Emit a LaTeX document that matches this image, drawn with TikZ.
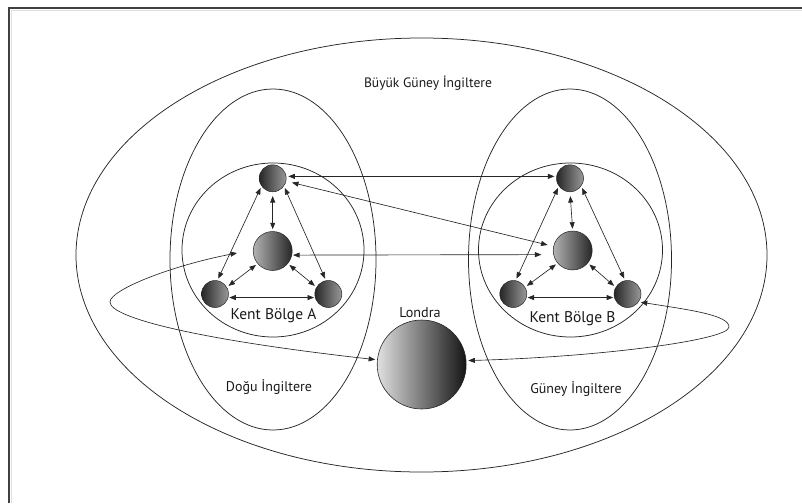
\documentclass[tikz,border=0pt]{standalone}
\usepackage{fontspec}
\setmainfont{PT Sans}
\usetikzlibrary{arrows.meta,calc}
\begin{document}
\begin{tikzpicture}[x=1pt,y=-1pt,
  lin/.style={line width=0.65pt, draw=black!85},
  region/.style={line width=0.75pt, draw=black!85},
  arr/.style={lin, {Triangle[length=6.5pt,width=5pt]}-{Triangle[length=6.5pt,width=5pt]}, shorten <=2pt, shorten >=2pt},
  small/.style={circle, minimum size=27pt, inner sep=0pt, draw=black!85, line width=0.5pt, left color=black!85, right color=black!40},
  mid/.style={circle, minimum size=39pt, inner sep=0pt, draw=black!85, line width=0.5pt, left color=black!30, right color=black!85},
  big/.style={circle, minimum size=89pt, inner sep=0pt, draw=black!85, line width=0.6pt, left color=black!12, right color=black!92},
  lbl/.style={font=\fontsize{14}{16}\selectfont, text=black!90, inner sep=0pt},
  kent/.style={lbl, font=\fontsize{15.5}{18}\selectfont}
]
\useasboundingbox (0,0) rectangle (802,503);
% frame
\draw[line width=1.3pt, black!12] (11.5,503) -- (11.5,10.5) -- (802,10.5);
\draw[line width=1.6pt, black!75] (9,503) -- (9,8) -- (802,8);

% regions
\draw[region] (421.5,255) ellipse [x radius=345.5, y radius=217];
\draw[region] (273,259.5) ellipse [x radius=103, y radius=170.5];
\draw[region] (570,259.5) ellipse [x radius=101.5, y radius=170.5];
\draw[region] (273,250) ellipse [x radius=91, y radius=87];
\draw[region] (570.5,250) ellipse [x radius=92, y radius=87];

% balls
\node[small] (TA) at (272.7,178.3) {};
\node[mid] (CA) at (272.7,251) {};
\node[small] (BLA) at (215,294) {};
\node[small] (BRA) at (328.3,294) {};
\node[small] (TB) at (570,178.3) {};
\node[mid] (CB) at (572.7,250.5) {};
\node[small] (BLB) at (513.3,294) {};
\node[small] (BRB) at (627.5,294) {};
\node[big] (L) at (421.7,364.5) {};

% labels
\node[lbl, font=\fontsize{13.6}{16}\selectfont] (tG) at (428,83) {Büyük Güney İngiltere};
\node[kent] (tA) at (273.5,316) {Kent Bölge A};
\node[kent] (tB) at (572.5,319) {Kent Bölge B};
\node[lbl, font=\fontsize{14.2}{16}\selectfont] (tL) at (420,313) {Londra};
\node[lbl] (tD) at (269,387) {Doğu İngiltere};
\node[lbl] (tS) at (576,389) {Güney İngiltere};

% triangles
\foreach \c in {A,B}{
  \draw[arr, shorten <=4pt] (T\c.south) -- (C\c.north);
  \draw[arr] (T\c.215) -- (BL\c.80);
  \draw[arr] (T\c.-35) -- (BR\c.100);
  \draw[arr] (C\c.220) -- (BL\c.30);
  \draw[arr] (C\c.-40) -- (BR\c.150);
  \draw[arr, shorten <=1pt, shorten >=1pt] (BL\c.-15) -- (BR\c.195);
}

% between clusters
\draw[arr] (TA.8) -- (TB.172);
\draw[arr, shorten <=6pt, shorten >=6pt] (TA.-12) -- (CB.168);
\draw[arr, shorten <=1pt, shorten >=12pt] (CA.-12) -- (CB.192);

% loops to London
\coordinate (la) at (237,253);
\draw[arr, shorten <=0pt] (la) .. controls (170,266) and (110,290) .. (110,302)
   .. controls (110,318) and (200,340) .. (L.174);
\draw[arr] (BRB.-35) .. controls (690,310) and (729,315) .. (729,327)
   .. controls (729,340) and (600,357) .. (L.5);
\end{tikzpicture}
\end{document}
